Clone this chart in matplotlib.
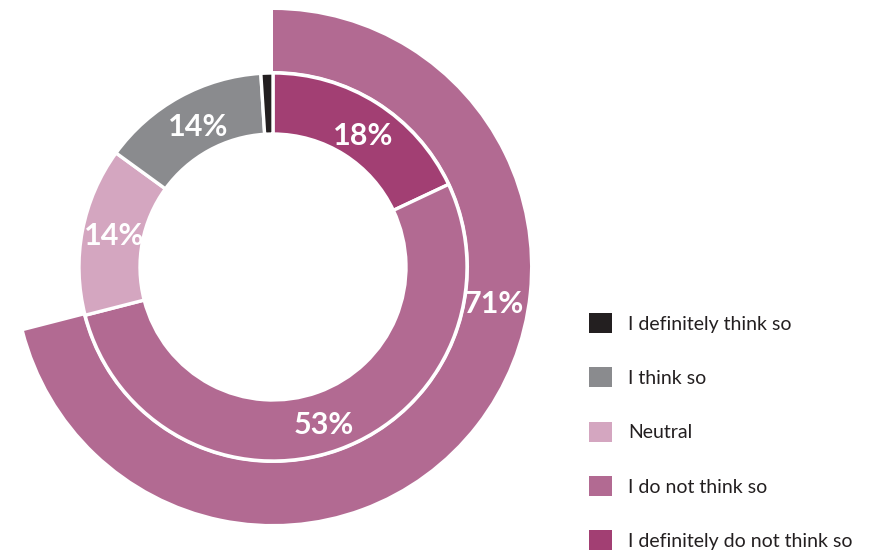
import numpy as np
import matplotlib.pyplot as plt
from matplotlib.patches import Patch

plt.rcParams["font.family"] = ["Lato", "DejaVu Sans"]

# Survey answers, listed clockwise from 12 o'clock on the inner ring
answers = ["I definitely do not think so", "I do not think so", "Neutral",
           "I think so", "I definitely think so"]
shares = [18, 53, 14, 14, 1]
colors = ["#A23F73", "#B26A92", "#D4A6C0", "#8A8B8E", "#231F20"]
show_label = [True, True, True, True, False]

# Outer arc: combined negative answers
negative_total = shares[0] + shares[1]

W, H = 876, 550
fig = plt.figure(figsize=(W / 100, H / 100), dpi=100)
ax = fig.add_axes([0, 0, 1, 1])

cx, cy = 273, H - 267
r_hole, r_inner, r_outer_in, r_outer = 133, 194, 196, 257

# Outer ring (drawn first, inner ring sits on top)
ax.pie([negative_total, 100 - negative_total], colors=[colors[1], "none"],
       startangle=90, counterclock=False, radius=r_outer, center=(cx, cy),
       wedgeprops=dict(width=r_outer - r_outer_in, linewidth=0))

# Inner ring
wedges, _ = ax.pie(shares, colors=colors, startangle=90, counterclock=False,
                   radius=r_inner, center=(cx, cy),
                   wedgeprops=dict(width=r_inner - r_hole, edgecolor="white",
                                   linewidth=2.4))

label_style = dict(color="white", fontsize=22, fontweight="bold",
                   ha="center", va="center")
drop = 4  # digits sit a little below the geometric centre

# Percent labels on the inner ring, near each wedge's mid angle
r_lab = (r_hole + r_inner) / 2 - 1
for w, val, show in zip(wedges, shares, show_label):
    if not show:
        continue
    ang = np.deg2rad((w.theta1 + w.theta2) / 2 - 1.5)
    ax.text(cx + r_lab * np.cos(ang), cy + r_lab * np.sin(ang) - drop,
            f"{val}%", **label_style)

# Label for the outer arc
ang = np.deg2rad(90 - 98.5)
r_out_lab = 223
ax.text(cx + r_out_lab * np.cos(ang), cy + r_out_lab * np.sin(ang) - drop,
        f"{negative_total}%", **label_style)

ax.set_xlim(0, W)
ax.set_ylim(0, H)
ax.set_aspect("equal")
ax.axis("off")

# Legend, listed in reverse order of the ring
handles = [Patch(facecolor=c, edgecolor="none") for c in colors[::-1]]
fs = 14
leg = ax.legend(handles, answers[::-1], loc="upper left",
                bbox_to_anchor=(589 / W, 1 - 313 / H),
                bbox_transform=fig.transFigure, frameon=False,
                fontsize=fs, handlelength=1.2, handleheight=1.2,
                handletextpad=0.8, labelspacing=1.77,
                borderpad=0, borderaxespad=0)
for t in leg.get_texts():
    t.set_color("#231F20")

fig.savefig("out.png", dpi=100)
